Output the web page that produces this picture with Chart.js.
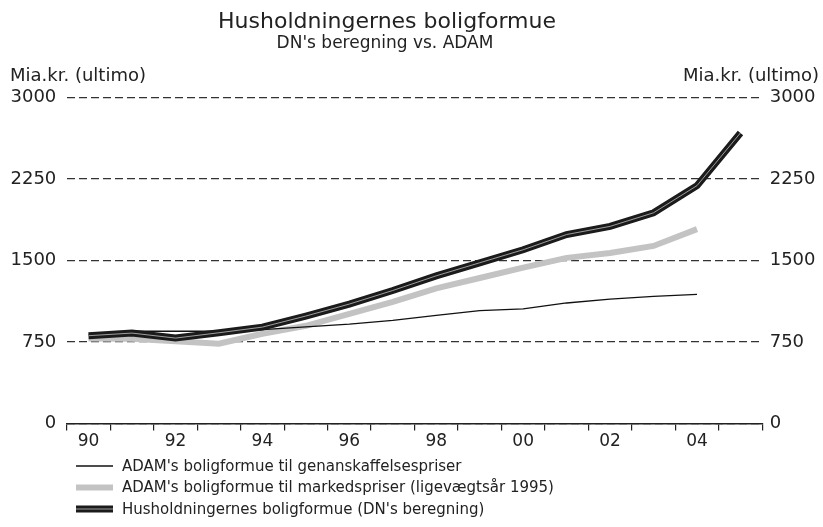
<!DOCTYPE html>
<html>
<head>
<meta charset="utf-8">
<script src="https://cdn.jsdelivr.net/npm/chart.js@4.4.1/dist/chart.umd.min.js"></script>
<style>
  html, body { margin: 0; padding: 0; background: #fff; }
  #wrap { width: 823px; height: 527px; }
</style>
</head>
<body>
<div id="wrap"><canvas id="chart"></canvas></div>
<script>
// years 1990-2005, shown as two digits
const years = ['90', '91', '92', '93', '94', '95', '96', '97', '98', '99', '00', '01', '02', '03', '04', '05'];

// Mia.kr.
const genanskaffelse = [815, 850, 850, 850, 865, 890, 915, 950, 995, 1040, 1055, 1110, 1145, 1170, 1190, null];
const markedspriser = [784, 781, 757, 735, 827, 900, 1010, 1120, 1245, 1340, 1435, 1525, 1570, 1635, 1790, null];
const dnBeregning = [809, 833, 787, 836, 888, 990, 1100, 1225, 1360, 1480, 1600, 1740, 1815, 1940, 2190, 2675];

const yMin = 0;
const yMax = 3000;
const yStep = 750;

const titleText = 'Husholdningernes boligformue';
const subtitleText = "DN's beregning vs. ADAM";
const unitLabel = 'Mia.kr. (ultimo)';
const fontFamily = "'DejaVu Sans', Verdana, sans-serif";
const textColor = '#222';

// title block, unit labels above both axes and the stacked legend at the bottom
const extras = {
    id: 'extras',
    afterDraw(chart) {
        const ctx = chart.ctx;
        const area = chart.chartArea;
        ctx.save();
        ctx.fillStyle = textColor;
        ctx.textBaseline = 'middle';

        ctx.textAlign = 'center';
        ctx.font = '22px ' + fontFamily;
        ctx.fillText(titleText, 387, 22);
        ctx.font = '17px ' + fontFamily;
        ctx.fillText(subtitleText, 385, 44);

        ctx.font = '18px ' + fontFamily;
        ctx.textAlign = 'left';
        ctx.fillText(unitLabel, 10, area.top - 21);
        ctx.textAlign = 'right';
        ctx.fillText(unitLabel, 819, area.top - 21);

        ctx.font = '15px ' + fontFamily;
        let row = 0;
        chart.data.datasets.forEach((ds) => {
            if (ds.hideInLegend) return;
            const y = 466 + row * 21.5;
            ctx.lineCap = 'butt';
            ctx.strokeStyle = ds.borderColor;
            ctx.lineWidth = ds.borderWidth;
            ctx.beginPath();
            ctx.moveTo(76, y);
            ctx.lineTo(113, y);
            ctx.stroke();
            if (ds.innerColor) {
                ctx.strokeStyle = ds.innerColor;
                ctx.lineWidth = 1;
                ctx.beginPath();
                ctx.moveTo(76, y);
                ctx.lineTo(113, y);
                ctx.stroke();
            }
            ctx.fillStyle = textColor;
            ctx.textAlign = 'left';
            ctx.fillText(ds.label, 122, y + 1);
            row++;
        });
        ctx.restore();
    }
};

const ctx = document.getElementById('chart').getContext('2d');
new Chart(ctx, {
    type: 'line',
    data: {
        labels: years,
        datasets: [
            {
                label: "ADAM's boligformue til genanskaffelsespriser",
                data: genanskaffelse,
                borderColor: '#111',
                borderWidth: 1.3,
                order: 2,
            },
            {
                label: "ADAM's boligformue til markedspriser (ligevægtsår 1995)",
                data: markedspriser,
                borderColor: '#c3c3c3',
                borderWidth: 6,
                order: 3,
            },
            {
                label: "Husholdningernes boligformue (DN's beregning)",
                data: dnBeregning,
                borderColor: '#1b1b1b',
                borderWidth: 7,
                innerColor: 'rgba(190,190,190,0.8)',
                order: 1,
            },
            {
                label: 'DN inner',
                data: dnBeregning,
                borderColor: 'rgba(190,190,190,0.8)',
                borderWidth: 1,
                hideInLegend: true,
                order: 0,
            },
        ],
    },
    options: {
        responsive: true,
        maintainAspectRatio: false,
        animation: false,
        events: [],
        elements: {
            point: { radius: 0 },
            line: { tension: 0, borderJoinStyle: 'miter', borderCapStyle: 'butt', fill: false },
        },
        layout: {
            padding: { left: 0, right: 0, top: 97.6, bottom: 74 },
        },
        plugins: {
            legend: { display: false },
            tooltip: { enabled: false },
        },
        scales: {
            x: {
                offset: true,
                grid: {
                    offset: true,
                    drawOnChartArea: false,
                    drawTicks: true,
                    tickLength: 7,
                    color: '#222',
                    lineWidth: 1.2,
                },
                border: { display: true, color: '#222', width: 1.5 },
                ticks: {
                    autoSkip: false,
                    maxRotation: 0,
                    padding: 1,
                    color: textColor,
                    font: { family: fontFamily, size: 17 },
                    callback: (value, index) => (index % 2 === 0 ? years[index] : ''),
                },
            },
            y: {
                position: 'left',
                min: yMin,
                max: yMax,
                grid: { color: '#333', lineWidth: 1.3, drawTicks: false },
                border: { display: false, dash: [8, 4] },
                ticks: {
                    stepSize: yStep,
                    padding: 10.5,
                    color: textColor,
                    font: { family: fontFamily, size: 18 },
                    callback: (value) => String(value),
                },
            },
            y2: {
                position: 'right',
                min: yMin,
                max: yMax,
                grid: { display: false, drawTicks: false },
                border: { display: false },
                ticks: {
                    stepSize: yStep,
                    padding: 7.5,
                    color: textColor,
                    font: { family: fontFamily, size: 18 },
                    callback: (value) => String(value),
                },
            },
        },
    },
    plugins: [extras],
});
</script>
</body>
</html>
